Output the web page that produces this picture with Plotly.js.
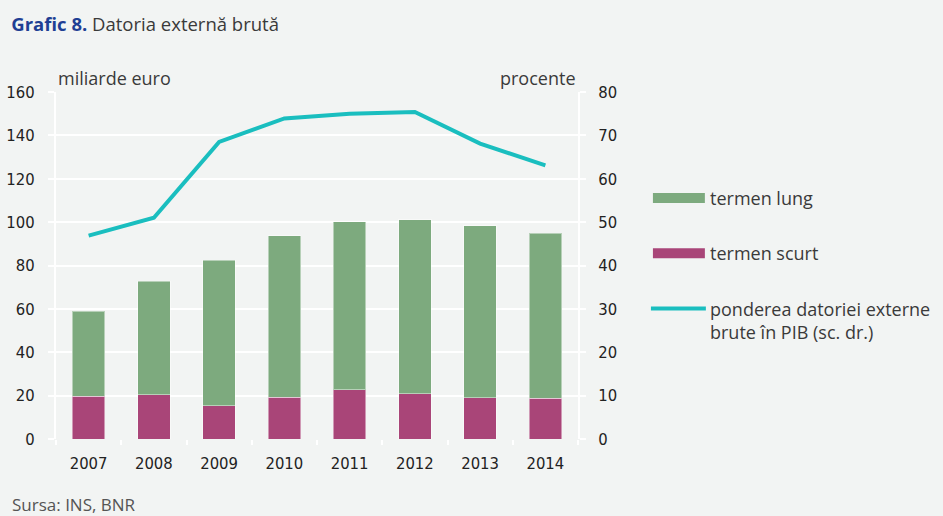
<!DOCTYPE html>
<html>
<head>
<meta charset="utf-8">
<script src="https://cdn.plot.ly/plotly-3.0.1.min.js"></script>
<style>
html,body{margin:0;padding:0;background:#f2f4f3;}
#chart{width:943px;height:516px;}
</style>
</head>
<body>
<div id="chart"></div>
<script>
// ---- data ----
var years = ['2007','2008','2009','2010','2011','2012','2013','2014'];
var termenScurt = [19.8, 20.4, 15.3, 19.3, 22.7, 20.8, 19.0, 18.8];
var termenLung  = [39.0, 52.3, 67.1, 74.5, 77.5, 80.3, 79.3, 76.1];
var pondere     = [46.9, 51.0, 68.5, 73.9, 75.0, 75.4, 68.1, 63.1];
var leftTicks = [0,20,40,60,80,100,120,140,160];
var rightTicks = [0,10,20,30,40,50,60,70,80];

// ---- layout helpers (pixel -> paper) ----
var L = 55.5, R = 578, T = 92.3, B = 439;
var W = R - L, H = B - T;
function px(x){ return (x - L) / W; }
function py(y){ return (B - y) / H; }

var green = '#7DAA7E', magenta = '#A94578', teal = '#1ABEBF';
var txtFont = {family:'Open Sans, sans-serif', size:18, color:'#3a3a3a'};
var tickFont = {family:'Liberation Sans Narrow, DejaVu Sans Condensed, Open Sans Condensed, Roboto Condensed, Liberation Sans, sans-serif', size:16.5, color:'#222'};

var traces = [
  {type:'bar', x:years, y:termenScurt, name:'termen scurt',
   marker:{color:magenta, line:{color:'rgba(255,255,255,0.45)', width:1}}, hoverinfo:'y'},
  {type:'bar', x:years, y:termenLung, name:'termen lung',
   marker:{color:green, line:{color:'rgba(255,255,255,0.45)', width:1}}, hoverinfo:'y'},
  {type:'scatter', mode:'lines', x:years, y:pondere, yaxis:'y2', name:'ponderea',
   line:{color:teal, width:4}, hoverinfo:'y'}
];

var layout = {
  width:943, height:516,
  margin:{l:L, r:943-R, t:T, b:516-B, pad:0},
  paper_bgcolor:'#f2f4f3', plot_bgcolor:'#f2f4f3',
  barmode:'stack', bargap:0.505,
  showlegend:false,
  title:{text:'<b><span style="color:#1F3F94">Grafic 8.</span></b> Datoria externă brută',
         x:0.012, xref:'container', xanchor:'left', y:1-25/516, yref:'container', yanchor:'middle',
         font:{family:'Open Sans, sans-serif', size:18.5, color:'#3a3a3a'}},
  xaxis:{type:'category', range:[-0.5,7.5], tickson:'boundaries', ticks:'outside', ticklen:5,
         tickcolor:'#fff', tickwidth:2, showgrid:false, showline:false, zeroline:false,
         tickfont:tickFont, ticklabelstandoff:12, fixedrange:true},
  yaxis:{range:[0,160], tickvals:leftTicks, ticks:'outside', ticklen:6, tickcolor:'#fff', tickwidth:2,
         showgrid:true, gridcolor:'#fff', gridwidth:2, showline:true, linecolor:'#fff', linewidth:2,
         zeroline:false, tickfont:tickFont, ticklabelstandoff:10, fixedrange:true},
  yaxis2:{range:[0,80], tickvals:rightTicks, overlaying:'y', side:'right', ticks:'outside', ticklen:6,
          tickcolor:'#fff', tickwidth:2, showgrid:false, showline:true, linecolor:'#fff', linewidth:2,
          zeroline:false, tickfont:tickFont, ticklabelstandoff:9, fixedrange:true},
  shapes:[
    {type:'rect', xref:'paper', yref:'paper', x0:px(653), x1:px(705), y0:py(203.3), y1:py(193.3),
     fillcolor:green, line:{width:0}},
    {type:'rect', xref:'paper', yref:'paper', x0:px(653), x1:px(705), y0:py(258.3), y1:py(248.3),
     fillcolor:magenta, line:{width:0}},
    {type:'line', xref:'paper', yref:'paper', x0:px(651), x1:px(706), y0:py(308.5), y1:py(308.5),
     line:{color:teal, width:4}}
  ],
  annotations:[
    {text:'miliarde euro', xref:'paper', yref:'paper', x:px(56), y:py(78), xanchor:'left', yanchor:'middle',
     showarrow:false, font:txtFont},
    {text:'procente', xref:'paper', yref:'paper', x:px(578), y:py(78), xanchor:'right', yanchor:'middle',
     showarrow:false, font:txtFont},
    {text:'termen lung', xref:'paper', yref:'paper', x:px(708), y:py(198), xanchor:'left', yanchor:'middle',
     showarrow:false, font:txtFont},
    {text:'termen scurt', xref:'paper', yref:'paper', x:px(708), y:py(253), xanchor:'left', yanchor:'middle',
     showarrow:false, font:txtFont},
    {text:'ponderea datoriei externe<br>brute în PIB (sc. dr.)', xref:'paper', yref:'paper', x:px(708), y:py(321),
     xanchor:'left', yanchor:'middle', align:'left', showarrow:false, font:txtFont},
    {text:'Sursa: INS, BNR', xref:'paper', yref:'paper', x:px(9), y:py(504), xanchor:'left', yanchor:'middle',
     showarrow:false, font:{family:'Open Sans, sans-serif', size:17, color:'#555'}}
  ]
};

Plotly.newPlot('chart', traces, layout, {displayModeBar:false, staticPlot:true});
</script>
</body>
</html>
